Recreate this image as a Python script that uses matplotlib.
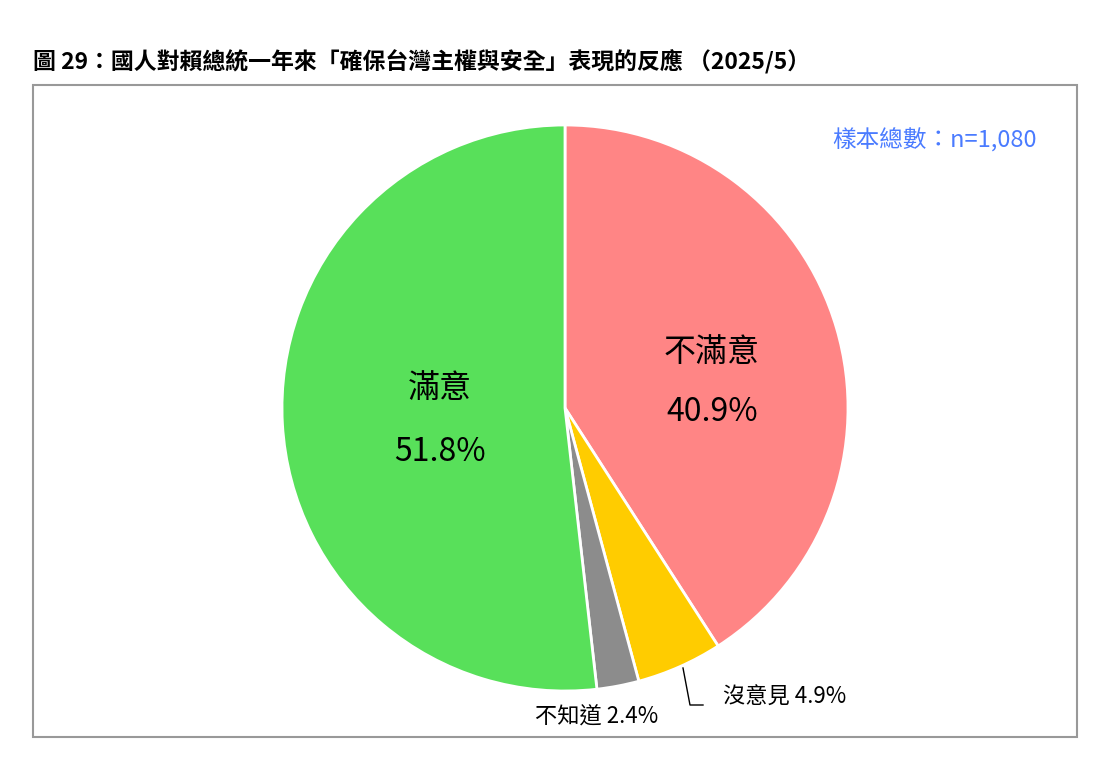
import matplotlib
matplotlib.use("Agg")
import matplotlib.pyplot as plt
from matplotlib.patches import Rectangle

plt.rcParams['font.family'] = ['Noto Sans CJK TC', 'DejaVu Sans']

labels = ["不滿意", "沒意見", "不知道", "滿意"]
values = [40.9, 4.9, 2.4, 51.8]
colors = ["#FF8585", "#FFCC00", "#8C8C8C", "#58E05A"]

W, H = 1102, 775
fig = plt.figure(figsize=(W/100, H/100), dpi=100)
fig.patches.append(Rectangle((33/W, 1-737/H), (1077-33)/W, (737-85)/H, transform=fig.transFigure,
                             fill=False, edgecolor="#999999", linewidth=1.5))
fig.text(33/W, 1-62/H, "圖 29：國人對賴總統一年來「確保台灣主權與安全」表現的反應 （2025/5）",
         fontsize=16.5, fontweight="bold", va="center", ha="left")
fig.text(1037/W, 1-140/H, "樣本總數：n=1,080", fontsize=17, color="#4A7BFF", ha="right", va="center",
         fontweight="medium")

ax = fig.add_axes([282/W, 1-691/H, 566/W, 566/H])
ax.pie(values, colors=colors, startangle=90, counterclock=False,
       wedgeprops=dict(edgecolor="white", linewidth=2))
ax.set_xlim(-1, 1)
ax.set_ylim(-1, 1)
ax.set_aspect("equal")

def ft(x, y, s, fs, **kw):
    fig.text(x/W, 1-y/H, s, fontsize=fs, ha="center", va="center", fontweight="medium", **kw)

ft(440, 388, labels[3], 23)
ft(440, 452, f"{values[3]}%", 23)
ft(712, 352, labels[0], 23)
ft(712, 412, f"{values[0]}%", 23)
ft(785, 697, f"{labels[1]} {values[1]}%", 16)
ft(597, 717, f"{labels[2]} {values[2]}%", 16)
fig.add_artist(plt.Line2D([683/W, 690/W, 703/W], [1-668/H, 1-705/H, 1-705/H],
                          color="black", linewidth=1, transform=fig.transFigure))

fig.savefig("out.png", dpi=100)
